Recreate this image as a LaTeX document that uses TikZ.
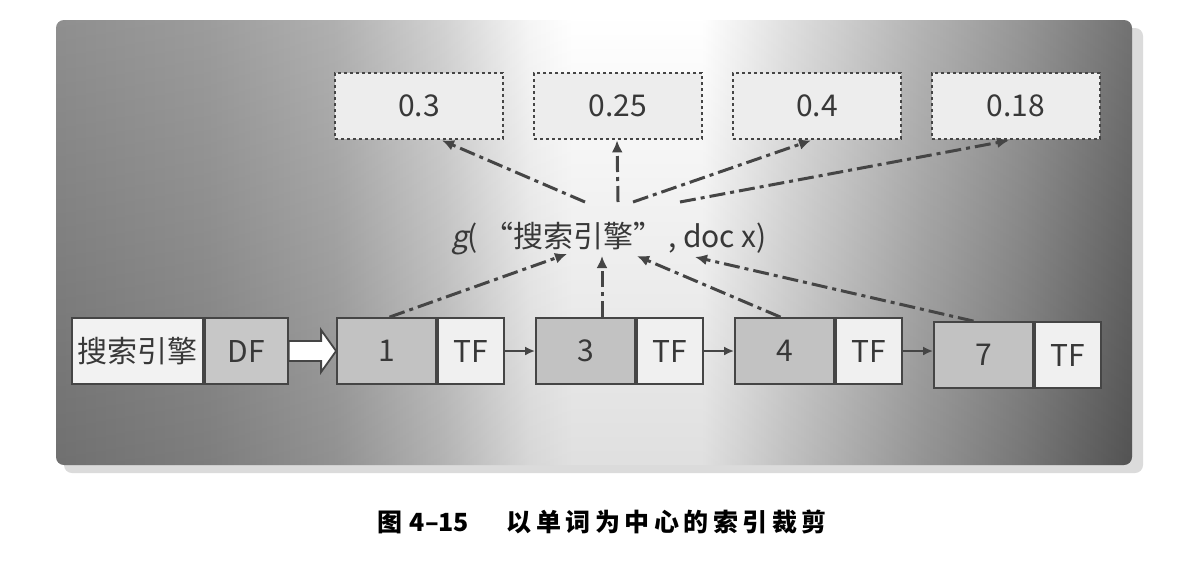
\documentclass[tikz,border=0pt]{standalone}
\usepackage{fontspec}
\setmainfont{Noto Sans CJK SC}
\newfontfamily\slantfont[FakeSlant=0.2]{Noto Sans CJK SC}
\usepackage{tikz}
\usetikzlibrary{positioning}
\usetikzlibrary{calc}
\usetikzlibrary{arrows.meta}
\definecolor{textgray}{HTML}{383838}
\definecolor{linegray}{HTML}{454545}
\pgfdeclarehorizontalshading{panelshade}{100bp}{%
  color(0bp)=(black!50); color(25bp)=(black!50); color(32bp)=(black!44);
  color(38bp)=(black!35); color(43bp)=(black!20); color(47bp)=(black!4);
  color(49bp)=(white); color(55bp)=(white); color(59bp)=(black!14);
  color(65bp)=(black!33); color(70bp)=(black!47); color(75bp)=(black!63);
  color(100bp)=(black!63)}

\begin{document}
\begin{tikzpicture}[
  x=0.5pt, y=-0.5pt,
  txt/.style={
    font=\fontsize{15pt}{17pt}\selectfont,
    text=textgray},
  cell/.style={
    txt,
    draw=linegray,
    line width=0.9pt,
    fill=#1,
    minimum height=33pt,
    inner sep=0pt},
  score/.style={
    txt,
    draw=linegray,
    fill=black!7,
    line width=1.4pt,
    dash pattern=on 1.6pt off 1.4pt,
    minimum width=84pt,
    minimum height=33pt},
  dd/.style={
    draw=linegray, line width=1.5pt,
    dash pattern=on 8pt off 2.5pt on 2pt off 2.5pt,
    -{Latex[length=6pt,width=5.5pt]}},
  link/.style={
    draw=linegray, line width=1pt,
    -{Latex[length=5pt,width=4.5pt]}},
]

  \def\stepsize{199}%
  \def\lvltop{106}%
  \def\lvlbase{351}%

  \fill[white] (0,0) rectangle (1186,568);
  \useasboundingbox (0,0) rectangle (1186,568);

  % Panel with shadow
  \fill[black!14, rounded corners=4pt] (64,28) rectangle (1143,473);
  \shade[shading=panelshade, rounded corners=4pt] (56,20) rectangle (1132,465);
  \shade[top color=white, bottom color=black, opacity=0.12, rounded corners=4pt]
    (56,20) rectangle (1132,465);

  % Scores
  \foreach \val [count=\i from 1] in {0.3,0.25,0.4,0.18} {
    \node[score] (score\i) at (220+\stepsize*\i, \lvltop) {\val};
  }

  % Function
  \node[txt, inner sep=0pt] (g) at (609,239)
    {{\slantfont g}(\,“搜索引擎”\,, doc x)};

  % Posting list
  \node[cell=black!5, minimum width=65.5pt] (term) at (137.5, \lvlbase) {搜索引擎};
  \node[cell=black!22, minimum width=41.5pt, right=0pt of term] (df) {DF};

  \foreach \doc/\dy [count=\i from 0] in {1/0,3/0,4/0,7/4} {
    \node[cell=black!24, minimum width=49.5pt] (d\doc)
      at (386.5+\stepsize*\i, \lvlbase+\dy) {\doc};
    \node[cell=black!6, minimum width=33pt, right=0pt of d\doc] (t\doc) {TF};
  }
  \foreach \a/\b in {1/3,3/4,4/7} {
    \draw[link] (t\a.east) -- (t\a.east -| d\b.west);
  }

  % Hollow arrow
  \draw[draw=linegray, line width=0.9pt, fill=white]
    ($(df.east)+(0,-10)$) -- ($(d1.west)+(-15,-10)$) -- ($(d1.west)+(-15,-21)$)
    -- (d1.west) -- ($(d1.west)+(-15,21)$) -- ($(d1.west)+(-15,10)$)
    -- ($(df.east)+(0,10)$) -- cycle;

  % g to scores
  \foreach \i/\gx/\sx in {1/-24/23, 2/9/-1, 3/24/-6, 4/71/-7} {
    \draw[dd] ($(g.center)+(\gx,-37)$) -- ($(score\i.south)+(\sx,0)$);
  }

  % docs to g
  \foreach \doc/\dx/\gx/\gy in {1/3/-42/15, 3/16.5/-7/17, 4/-4/28/17, 7/-10/86/18} {
    \draw[dd] ($(d\doc.north)+(\dx,0)$) -- ($(g.center)+(\gx,\gy)$);
  }

  % Caption
  \node[font=\bfseries\fontsize{12.5pt}{15pt}\selectfont, text=black] (caption) at (602,522)
    {图\hspace{0.3em}4–15\hspace{1.5em}{\addfontfeatures{LetterSpace=18}以单词为中心的索引裁剪}};

\end{tikzpicture}
\end{document}
